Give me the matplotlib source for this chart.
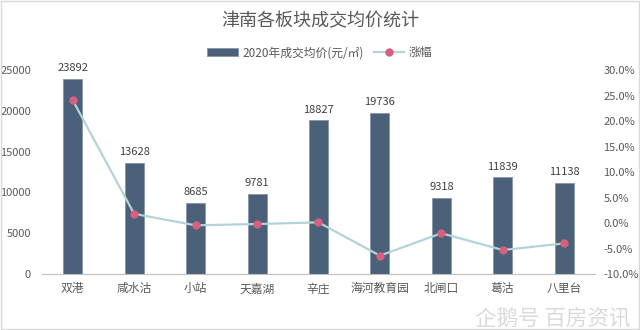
import matplotlib
matplotlib.use("Agg")
import matplotlib.pyplot as plt
from matplotlib.ticker import FuncFormatter

plt.rcParams['font.family'] = ['Noto Sans CJK SC', 'DejaVu Sans']

districts = ["双港", "咸水沽", "小站", "天嘉湖", "辛庄", "海河教育园", "北闸口", "葛沽", "八里台"]
avg_price = [23892, 13628, 8685, 9781, 18827, 19736, 9318, 11839, 11138]
growth_pct = [24.1, 1.8, -0.45, -0.2, 0.13, -6.4, -2.0, -5.3, -4.0]

bar_color = "#4b6079"
line_color = "#b3d3d8"
marker_color = "#d6607f"
text_color = "#595959"

fig = plt.figure(figsize=(6.4, 3.3), dpi=100)
fig.patch.set_facecolor("white")
ax = fig.add_axes([0.0656, 0.1697, 0.864, 0.618])
ax2 = ax.twinx()

x = list(range(len(districts)))
bars = ax.bar(x, avg_price, width=0.31, color=bar_color, edgecolor="#8497ab",
              linewidth=0.6, zorder=2, label="2020年成交均价(元/㎡)")
for xi, v in zip(x, avg_price):
    ax.text(xi, v + 700, str(v), ha="center", va="bottom", fontsize=8,
            color="#404040")

ax.set_xlim(-0.5, len(districts) - 0.5)
ax.set_ylim(0, 25000)
ax.set_yticks(range(0, 25001, 5000))
ax.set_xticks(x)
ax.set_xticklabels(districts, fontsize=8.5, color=text_color)
ax.tick_params(axis="y", labelsize=8, colors=text_color, length=0, pad=8)
ax.tick_params(axis="x", length=0, pad=6)
for s in ["top", "left", "right"]:
    ax.spines[s].set_visible(False)
ax.spines["bottom"].set_color("#bfbfbf")

line, = ax2.plot(x, growth_pct, color=line_color, linewidth=1.6, marker="o",
                 markersize=5, markerfacecolor=marker_color,
                 markeredgecolor=marker_color, zorder=3, label="涨幅")
ax2.set_ylim(-10, 30)
ax2.set_yticks(range(-10, 31, 5))
ax2.yaxis.set_major_formatter(FuncFormatter(lambda v, p: f"{v:.1f}%"))
ax2.tick_params(axis="y", labelsize=8, colors=text_color, length=0, pad=6)
for s in ["top", "left", "right", "bottom"]:
    ax2.spines[s].set_visible(False)

fig.text(0.5, 0.935, "津南各板块成交均价统计", ha="center", va="center",
         fontsize=13, color="#595959")
fig.legend(handles=[bars, line], loc="center", bbox_to_anchor=(0.5, 0.84),
           ncol=2, frameon=False, fontsize=8.5, handlelength=2.6,
           columnspacing=0.8, handletextpad=0.4, labelcolor=text_color)

fig.text(0.985, 0.035, "企鹅号 百房资讯", ha="right", va="center",
         fontsize=15.5, color="#dadada")

border = plt.Rectangle((0.002, 0.003), 0.996, 0.994, transform=fig.transFigure,
                       fill=False, edgecolor="#d9d9d9", linewidth=1)
fig.patches.append(border)

fig.savefig("out.png", dpi=100, facecolor="white")
